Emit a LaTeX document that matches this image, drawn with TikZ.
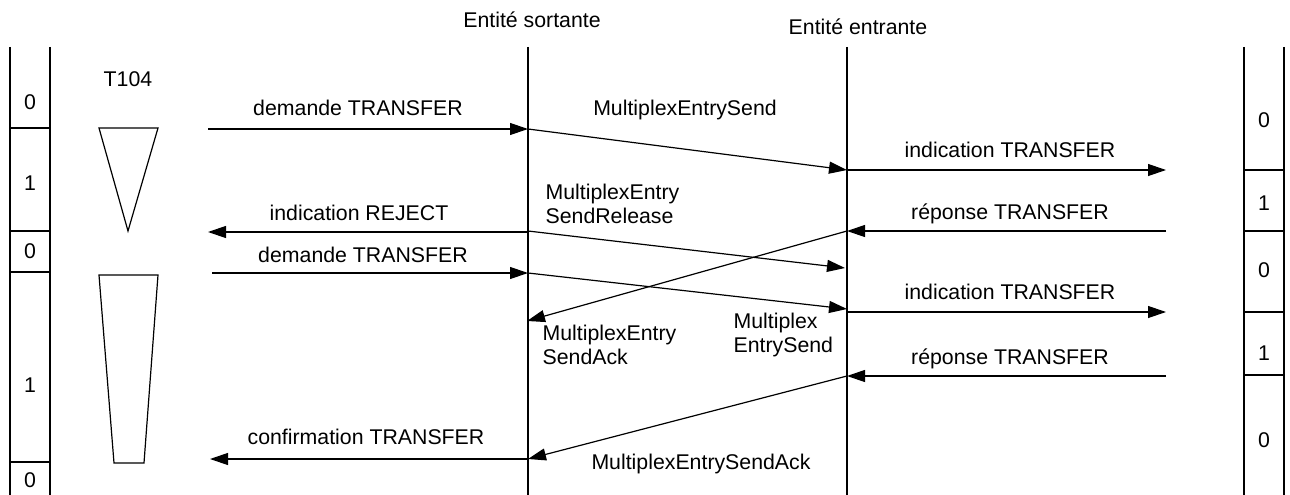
\documentclass[tikz,border=0pt]{standalone}
\usepackage{fontspec}
\setmainfont{Liberation Sans}
\usetikzlibrary{arrows.meta}
\begin{document}
\begin{tikzpicture}[x=1pt,y=-1pt,line width=1.2pt,
  msg/.style={-{Triangle[length=18pt,width=12pt]}},
  lbl/.style={font=\fontsize{21.3}{24}\selectfont,inner sep=0pt,anchor=base},
  lbll/.style={font=\fontsize{21.3}{24}\selectfont,inner sep=0pt,anchor=base west,align=left}]
\useasboundingbox (0,0) rectangle (1290,495);
% headings
\node[lbl] (hs) at (532,28) {Entité sortante};
\node[lbl] (he) at (858,35) {Entité entrante};
% lifelines
\coordinate (sT) at (528,47); \coordinate (sB) at (528,495);
\coordinate (eT) at (847,47); \coordinate (eB) at (847,495);
\draw (sT) -- (sB);
\draw (eT) -- (eB);
% left state column
\draw (10,47) -- (10,495);
\draw (50,47) -- (50,495);
\foreach \y in {128,231,272,462} \draw (10,\y) -- (50,\y);
\node[lbl] (l1) at (30,109) {0};
\node[lbl] (l2) at (30,190) {1};
\node[lbl] (l3) at (30,258) {0};
\node[lbl] (l4) at (30,392) {1};
\node[lbl] (l5) at (30,487) {0};
% right state column
\draw (1244,47) -- (1244,495);
\draw (1284,47) -- (1284,495);
\foreach \y in {170,231,312,375} \draw (1244,\y) -- (1284,\y);
\node[lbl] (r1) at (1264,127) {0};
\node[lbl] (r2) at (1264,210) {1};
\node[lbl] (r3) at (1264,277) {0};
\node[lbl] (r4) at (1264,360) {1};
\node[lbl] (r5) at (1264,447) {0};
% T104
\node[lbl] (t104) at (128,86) {T104};
\draw (99,128) -- (158,128) -- (128,231) -- cycle;
\draw (99,275) -- (158,275) -- (144,463) -- (114,463) -- cycle;
% endpoints
\coordinate (a1) at (208,129); \coordinate (s1) at (528,129);
\coordinate (e1) at (847,170); \coordinate (b1) at (1166,170);
\coordinate (b2) at (1166,231); \coordinate (e2) at (847,231);
\coordinate (s2) at (527,321);
\coordinate (s3) at (528,232); \coordinate (a3) at (208,232);
\coordinate (s4) at (528,231); \coordinate (e4) at (845,268);
\coordinate (a5) at (212,273); \coordinate (s5) at (528,273);
\coordinate (e5) at (847,309);
\coordinate (e6) at (847,312); \coordinate (b6) at (1166,312);
\coordinate (b7) at (1166,376); \coordinate (e7) at (847,376);
\coordinate (s8) at (528,459); \coordinate (a8) at (210,459);
% messages
\draw[msg] (a1) -- (s1);
\draw[msg] (s1) -- (e1);
\draw[msg] (e1) -- (b1);
\draw[msg] (b2) -- (e2);
\draw[msg] (e2) -- (s2);
\draw[msg] (s3) -- (a3);
\draw[msg] (s4) -- (e4);
\draw[msg] (a5) -- (s5);
\draw[msg] (s5) -- (e5);
\draw[msg] (e6) -- (b6);
\draw[msg] (b7) -- (e7);
\draw[msg] (e7) -- (s8);
\draw[msg] (s8) -- (a8);
% labels
\node[lbl] (m1) at (358,115) {demande TRANSFER};
\node[lbl] (m2) at (685,115) {MultiplexEntrySend};
\node[lbl] (m3) at (1010,157) {indication TRANSFER};
\node[lbll] (m4) at (545,223) {MultiplexEntry\\SendRelease};
\node[lbl] (m5) at (359,220) {indication REJECT};
\node[lbl] (m6) at (1010,219) {réponse TRANSFER};
\node[lbl] (m7) at (363,262) {demande TRANSFER};
\node[lbl] (m8) at (1010,299) {indication TRANSFER};
\node[lbll] (m9) at (733,352) {Multiplex\\EntrySend};
\node[lbll] (m10) at (542,364) {MultiplexEntry\\SendAck};
\node[lbl] (m11) at (1010,364) {réponse TRANSFER};
\node[lbl] (m12) at (366,444) {confirmation TRANSFER};
\node[lbl] (m13) at (701,469) {MultiplexEntrySendAck};
\end{tikzpicture}
\end{document}
